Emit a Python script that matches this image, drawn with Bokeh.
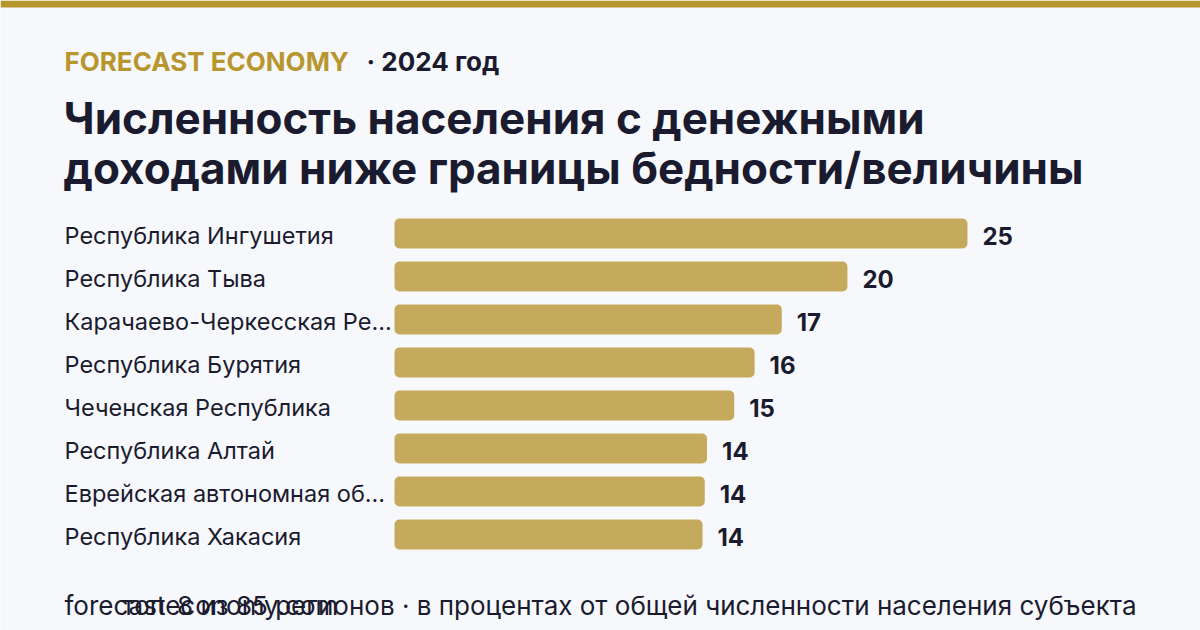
from bokeh.plotting import figure
from bokeh.models import Range1d, ColumnDataSource, Label
from bokeh.core.properties import value
from bokeh.embed import file_html
from bokeh.resources import INLINE

# ---- data ----
regions = [
    "Республика Ингушетия",
    "Республика Тыва",
    "Карачаево-Черкесская Ре...",
    "Республика Бурятия",
    "Чеченская Республика",
    "Республика Алтай",
    "Еврейская автономная об...",
    "Республика Хакасия",
]
values = [25.3, 20.0, 17.1, 15.9, 15.0, 13.8, 13.7, 13.6]
value_labels = ["25", "20", "17", "16", "15", "14", "14", "14"]

brand = "FORECAST ECONOMY"
year_text = "· 2024 год"
title_lines = ["Численность населения с денежными", "доходами ниже границы бедности/величины"]
source_text = "forecasteconomy.com"
note_text = "топ-8 из 85 регионов · в процентах от общей численности населения субъекта"

# ---- style ----
W, H = 1200, 630
BG = "#f7f8fc"
GOLD = "#b8962e"
BAR = "#c5a95c"
DARK = "#1b1b2f"
FONT = "Inter"

BAR_X0 = 394      # pixel where value 0 sits
PLOT_R = 1136     # pixel where the value axis ends
ROW0 = 233        # pixel centre of first row
ROW_STEP = 43     # pixel spacing between rows

p = figure(width=W, height=H, output_backend="svg", toolbar_location=None,
           x_range=Range1d(0, W), y_range=Range1d(H, 0),
           min_border=0, min_border_left=0, min_border_right=0,
           min_border_top=0, min_border_bottom=0)
p.axis.visible = False
p.grid.visible = False
p.outline_line_color = None
p.background_fill_color = BG
p.border_fill_color = BG

# value range and row range (extra ranges covering the whole canvas)
xmax = max(values) * 1.295
px_per_unit = (PLOT_R - BAR_X0) / xmax
p.extra_x_ranges = {"val": Range1d(-BAR_X0 / px_per_unit, (W - BAR_X0) / px_per_unit)}
p.extra_y_ranges = {"row": Range1d((H - ROW0) / ROW_STEP, -ROW0 / ROW_STEP)}

idx = list(range(len(regions)))
src = ColumnDataSource(dict(y=idx, v=values, lab=value_labels, reg=regions))

p.hbar(y="y", left=0, right="v", height=0.7, source=src,
       x_range_name="val", y_range_name="row",
       fill_color=BAR, line_color=None, border_radius=5)

p.text(x="v", y="y", text="lab", source=src, x_range_name="val", y_range_name="row",
       x_offset=15, y_offset=2, text_font=value(FONT), text_font_style="bold",
       text_font_size="24px", text_color=DARK, text_baseline="middle", text_align="left")

p.text(x=64, y=[ROW0 + 2 + ROW_STEP * i for i in idx], text=regions,
       text_font=value(FONT), text_font_size="23.5px", text_color=DARK,
       text_baseline="middle", text_align="left")

# top stripe
p.quad(left=0, right=W, top=0, bottom=7, fill_color=GOLD, line_color=None)

# header
p.add_layout(Label(x=64, y=61, text=brand, text_font=FONT, text_font_size="26px",
                   text_font_style="bold", text_color=GOLD, text_baseline="middle"))
p.add_layout(Label(x=366, y=61, text=year_text, text_font=FONT, text_font_size="26px",
                   text_font_style="bold", text_color=DARK, text_baseline="middle"))
for i, line in enumerate(title_lines):
    p.add_layout(Label(x=63, y=117 + 50 * i, text=line, text_font=FONT,
                       text_font_size="44px", text_font_style="bold",
                       text_color=DARK, text_baseline="middle"))

# footer
p.add_layout(Label(x=64, y=605, text=source_text, text_font=FONT, text_font_size="26px",
                   text_color=DARK, text_baseline="middle", text_align="left"))
p.add_layout(Label(x=1136, y=605, text=note_text, text_font=FONT, text_font_size="26px",
                   text_color=DARK, text_baseline="middle", text_align="right"))

open("out.html", "w").write(file_html(p, INLINE))
